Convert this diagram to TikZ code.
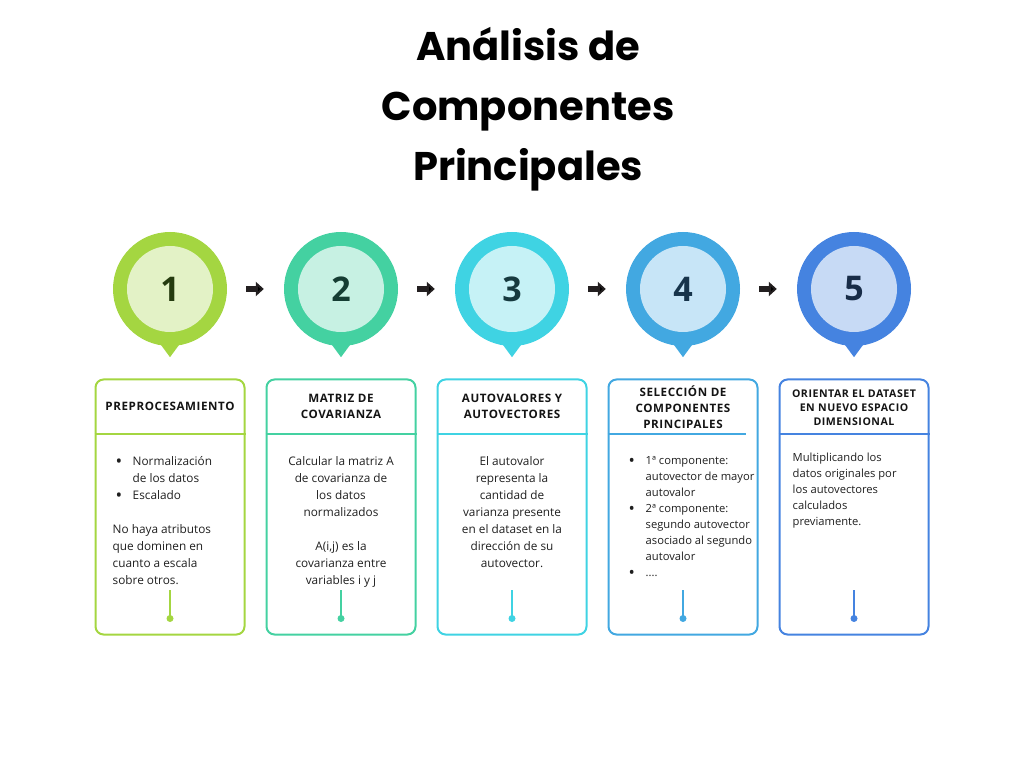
\documentclass[tikz,border=0pt]{standalone}
\usepackage{fontspec}
\setmainfont{Open Sans}
\newfontfamily\titlefont{Poppins}
\newfontfamily\headfont[LetterSpace=5]{Open Sans}
\usetikzlibrary{%
  positioning
 ,arrows.meta
}
\definecolor{lime}{HTML}{A4D641}
\definecolor{limel}{HTML}{E3F2C6}
\definecolor{limed}{HTML}{253B0F}
\definecolor{mint}{HTML}{44D1A1}
\definecolor{mintl}{HTML}{C7F1E3}
\definecolor{mintd}{HTML}{153D33}
\definecolor{cyan}{HTML}{3FD3E3}
\definecolor{cyanl}{HTML}{C6F2F6}
\definecolor{cyand}{HTML}{163A3F}
\definecolor{sky}{HTML}{42A8E1}
\definecolor{skyl}{HTML}{C7E5F7}
\definecolor{skyd}{HTML}{17344B}
\definecolor{royal}{HTML}{4583E0}
\definecolor{royall}{HTML}{C7DAF5}
\definecolor{royald}{HTML}{182C48}
\definecolor{arrowc}{HTML}{231F20}
\tikzstyle{pca}=[x=1pt,y=1pt,node distance=171pt,on grid,inner sep=0pt]
\tikzstyle{ring}=[circle,minimum size=114pt]
\tikzstyle{core}=[circle,minimum size=86pt,font=\fontsize{34}{34}\selectfont\bfseries]
\tikzstyle{card}=[draw,line width=2pt,rounded corners=8pt,minimum width=149pt,minimum height=255pt]
\tikzstyle{head}=[font=\headfont\bfseries\fontsize{11.6}{16}\selectfont,align=center,text=black!92]
\tikzstyle{heads}=[font=\headfont\bfseries\fontsize{10.6}{14}\selectfont,align=center,text=black!92]
\tikzstyle{body}=[font=\fontsize{11.8}{17}\selectfont,text=black!88,anchor=north,align=center]
\tikzstyle{bodyl}=[font=\fontsize{11.8}{17}\selectfont,text=black!88,anchor=north west,align=left]
\tikzstyle{bodys}=[font=\fontsize{11.2}{16}\selectfont,text=black!88,anchor=north west,align=left]
\tikzstyle{flow}=[-{Triangle[length=8pt,width=14pt]},line width=6pt,draw=arrowc,shorten <=19pt,shorten >=20pt]
\tikzstyle{dot}=[circle,minimum size=7pt]
\newcommand{\itm}{\hspace*{3pt}\makebox[17pt][l]{\raisebox{-1.6pt}{\scalebox{1.5}{\textbullet}}}}
\newcommand{\cont}{\hspace*{20pt}}

\begin{document}
\begin{tikzpicture}[pca]
  \useasboundingbox (0,0) rectangle (1024,768);
  \node[font=\titlefont\bfseries\fontsize{40}{60}\selectfont,align=center,anchor=north]
    (title) at (528,741) {Análisis de\\Componentes\\Principales};
% markers
  \node[ring,fill=lime]                    (s_1) at (170,479) {};
  \node[ring,fill=mint]  [right=of s_1]    (s_2) {};
  \node[ring,fill=cyan]  [right=of s_2]    (s_3) {};
  \node[ring,fill=sky]   [right=of s_3]    (s_4) {};
  \node[ring,fill=royal] [right=of s_4]    (s_5) {};
  \fill[lime]  ([xshift=-14pt,yshift=8pt]s_1.south) -- ([xshift=14pt,yshift=8pt]s_1.south) -- ([yshift=-11pt]s_1.south) -- cycle;
  \fill[mint]  ([xshift=-14pt,yshift=8pt]s_2.south) -- ([xshift=14pt,yshift=8pt]s_2.south) -- ([yshift=-11pt]s_2.south) -- cycle;
  \fill[cyan]  ([xshift=-14pt,yshift=8pt]s_3.south) -- ([xshift=14pt,yshift=8pt]s_3.south) -- ([yshift=-11pt]s_3.south) -- cycle;
  \fill[sky]   ([xshift=-14pt,yshift=8pt]s_4.south) -- ([xshift=14pt,yshift=8pt]s_4.south) -- ([yshift=-11pt]s_4.south) -- cycle;
  \fill[royal] ([xshift=-14pt,yshift=8pt]s_5.south) -- ([xshift=14pt,yshift=8pt]s_5.south) -- ([yshift=-11pt]s_5.south) -- cycle;
  \node[core,fill=limel,text=limed]   (n_1) at (s_1) {1};
  \node[core,fill=mintl,text=mintd]   (n_2) at (s_2) {2};
  \node[core,fill=cyanl,text=cyand]   (n_3) at (s_3) {3};
  \node[core,fill=skyl,text=skyd]     (n_4) at (s_4) {4};
  \node[core,fill=royall,text=royald] (n_5) at (s_5) {5};
% 
  \path[flow]
  (s_1) edge (s_2)
  (s_2) edge (s_3)
  (s_3) edge (s_4)
  (s_4) edge (s_5);
% cards
  \node[card,draw=lime]  [below=218pt of s_1] (b_1) {};
  \node[card,draw=mint]  [below=218pt of s_2] (b_2) {};
  \node[card,draw=cyan]  [below=218pt of s_3] (b_3) {};
  \node[card,draw=sky]   [below=218pt of s_4] (b_4) {};
  \node[card,draw=royal] [below=218pt of s_5] (b_5) {};
  \draw[lime,line width=2pt]  ([yshift=-56pt]b_1.north west) -- ([yshift=-56pt]b_1.north east);
  \draw[mint,line width=2pt]  ([yshift=-56pt]b_2.north west) -- ([yshift=-56pt]b_2.north east);
  \draw[cyan,line width=2pt]  ([yshift=-56pt]b_3.north west) -- ([yshift=-56pt]b_3.north east);
  \draw[sky,line width=2pt]   ([yshift=-56pt]b_4.north west) -- ([xshift=-13pt,yshift=-56pt]b_4.north east);
  \draw[royal,line width=2pt] ([yshift=-56pt]b_5.north west) -- ([yshift=-56pt]b_5.north east);
  \node[head]  (h_1) at ([yshift=-28pt]b_1.north) {PREPROCESAMIENTO};
  \node[head]  (h_2) at ([yshift=-28pt]b_2.north) {MATRIZ DE\\COVARIANZA};
  \node[head]  (h_3) at ([yshift=-28pt]b_3.north) {AUTOVALORES Y\\AUTOVECTORES};
  \node[head]  (h_4) at ([yshift=-29pt]b_4.north) {SELECCIÓN DE\\COMPONENTES\\PRINCIPALES};
  \node[heads] (h_5) at ([yshift=-29pt]b_5.north) {ORIENTAR EL DATASET\\EN NUEVO ESPACIO\\DIMENSIONAL};
  \node[bodyl] (t_1) at ([xshift=18pt,yshift=-78pt]b_1.north west)
    {\itm Normalización\\\cont de los datos\\\itm Escalado\\[17pt]No haya atributos\\que dominen en\\cuanto a escala\\sobre otros.};
  \node[body]  (t_2) at ([yshift=-78pt]b_2.north)
    {Calcular la matriz A\\de covarianza de\\los datos\\normalizados\\[17pt]A(i,j) es la\\covarianza entre\\variables i y j};
  \node[body]  (t_3) at ([yshift=-78pt]b_3.north)
    {El autovalor\\representa la\\cantidad de\\varianza presente\\en el dataset en la\\dirección de su\\autovector.};
  \node[bodys] (t_4) at ([xshift=18pt,yshift=-78pt]b_4.north west)
    {\itm 1ª componente:\\\cont autovector de mayor\\\cont autovalor\\\itm 2ª componente:\\\cont segundo autovector\\\cont asociado al segundo\\\cont autovalor\\\itm ....};
  \node[bodys] (t_5) at ([xshift=14pt,yshift=-74pt]b_5.north west)
    {Multiplicando los\\datos originales por\\los autovectores\\calculados\\previamente.};
% stubs
  \node[dot,fill=lime]  (d_1) at ([yshift=17pt]b_1.south) {};
  \node[dot,fill=mint]  (d_2) at ([yshift=17pt]b_2.south) {};
  \node[dot,fill=cyan]  (d_3) at ([yshift=17pt]b_3.south) {};
  \node[dot,fill=sky]   (d_4) at ([yshift=17pt]b_4.south) {};
  \node[dot,fill=royal] (d_5) at ([yshift=17pt]b_5.south) {};
  \draw[lime,line width=2pt]  (d_1.center) -- ++(0,28);
  \draw[mint,line width=2pt]  (d_2.center) -- ++(0,28);
  \draw[cyan,line width=2pt]  (d_3.center) -- ++(0,28);
  \draw[sky,line width=2pt]   (d_4.center) -- ++(0,28);
  \draw[royal,line width=2pt] (d_5.center) -- ++(0,28);
\end{tikzpicture}
\end{document}
